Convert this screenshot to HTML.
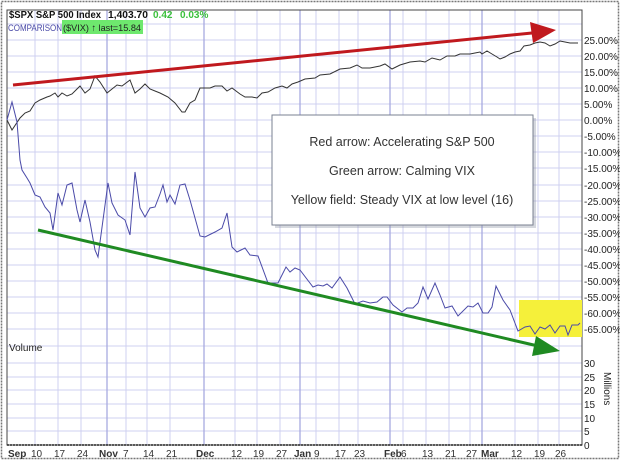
<!DOCTYPE html>
<html><head><meta charset="utf-8"><style>
body{margin:0;background:#fff;}
svg{display:block;font-family:"Liberation Sans",Arial,sans-serif;}
</style></head><body>
<svg width="620" height="460" viewBox="0 0 620 460" xmlns="http://www.w3.org/2000/svg">
<rect x="0" y="0" width="620" height="460" fill="#fff"/>
<rect x="1.5" y="1.5" width="617" height="457" fill="none" stroke="#777" stroke-width="1.5" stroke-dasharray="2,1"/>
<g stroke="#cfd0f0" stroke-width="1">
<line x1="7" y1="24" x2="582" y2="24"/><line x1="7" y1="40" x2="582" y2="40"/><line x1="7" y1="56" x2="582" y2="56"/><line x1="7" y1="72" x2="582" y2="72"/><line x1="7" y1="88" x2="582" y2="88"/><line x1="7" y1="104" x2="582" y2="104"/><line x1="7" y1="120" x2="582" y2="120"/><line x1="7" y1="136" x2="582" y2="136"/><line x1="7" y1="152" x2="582" y2="152"/><line x1="7" y1="168" x2="582" y2="168"/><line x1="7" y1="185" x2="582" y2="185"/><line x1="7" y1="201" x2="582" y2="201"/><line x1="7" y1="217" x2="582" y2="217"/><line x1="7" y1="233" x2="582" y2="233"/><line x1="7" y1="249" x2="582" y2="249"/><line x1="7" y1="265" x2="582" y2="265"/><line x1="7" y1="281" x2="582" y2="281"/><line x1="7" y1="297" x2="582" y2="297"/><line x1="7" y1="313" x2="582" y2="313"/><line x1="7" y1="329" x2="582" y2="329"/>
<line x1="7" y1="346" x2="582" y2="346"/><line x1="7" y1="363" x2="582" y2="363"/><line x1="7" y1="377" x2="582" y2="377"/><line x1="7" y1="390" x2="582" y2="390"/><line x1="7" y1="404" x2="582" y2="404"/><line x1="7" y1="418" x2="582" y2="418"/><line x1="7" y1="431" x2="582" y2="431"/>
<line x1="35" y1="10" x2="35" y2="445"/><line x1="58" y1="10" x2="58" y2="445"/><line x1="81" y1="10" x2="81" y2="445"/><line x1="126" y1="10" x2="126" y2="445"/><line x1="147" y1="10" x2="147" y2="445"/><line x1="170" y1="10" x2="170" y2="445"/><line x1="235" y1="10" x2="235" y2="445"/><line x1="257" y1="10" x2="257" y2="445"/><line x1="280" y1="10" x2="280" y2="445"/><line x1="316" y1="10" x2="316" y2="445"/><line x1="339" y1="10" x2="339" y2="445"/><line x1="358" y1="10" x2="358" y2="445"/><line x1="403" y1="10" x2="403" y2="445"/><line x1="426" y1="10" x2="426" y2="445"/><line x1="449" y1="10" x2="449" y2="445"/><line x1="470" y1="10" x2="470" y2="445"/><line x1="515" y1="10" x2="515" y2="445"/><line x1="538" y1="10" x2="538" y2="445"/><line x1="559" y1="10" x2="559" y2="445"/>
</g>
<g stroke="#a8aae0" stroke-width="1.3">
<line x1="107" y1="10" x2="107" y2="445"/><line x1="204" y1="10" x2="204" y2="445"/><line x1="300" y1="10" x2="300" y2="445"/><line x1="390" y1="10" x2="390" y2="445"/><line x1="482" y1="10" x2="482" y2="445"/>
</g>
<rect x="7" y="10" width="575" height="435" fill="none" stroke="#444" stroke-width="1"/>
<line x1="7" y1="445" x2="582" y2="445" stroke="#222" stroke-width="1.5" stroke-dasharray="2,1"/>
<rect x="519" y="300" width="63" height="37" fill="#f5f03a"/>
<polyline fill="none" stroke="#333" stroke-width="1" points="7,120 12,130 20,118 25,113 30,111 35,103 40,100 47,97 50,96 55,93 58,97 62,93 67,96 72,94 77,89 80,86 85,93 90,89 95,76 100,82 107,93 112,89 117,85 122,86 130,80 135,93 140,89 145,84 150,89 155,91 160,93 168,97 175,103 182,112 185,112 190,103 195,100 200,88 210,88 215,86 222,86 227,91 232,88 240,94 245,97 252,97 257,98 262,93 268,92 275,88 282,86 287,88 292,84 298,82 305,79 315,78 320,75 330,74 340,69 350,68 357,65 362,68 370,68 380,66 385,64 392,69 400,65 410,62 420,61 425,62 432,58 440,60 447,56 455,56 460,54 470,54 475,53 480,52 482,54 487,51 492,54 497,57 500,59 505,57 510,54 515,52 520,51 524,46 530,45 535,43 540,42 545,43 550,46 555,44 560,41 565,42 570,43 578,43"/>
<polyline fill="none" stroke="#4a4aa8" stroke-width="1" points="7,120 12,102 17,122 20,160 22,170 27,178 30,183 35,195 40,197 45,207 50,213 53,230 58,193 62,205 67,185 72,183 77,210 80,222 85,200 90,222 95,250 98,257 108,183 112,203 118,215 125,220 130,235 135,172 140,208 145,217 150,208 155,207 160,194 163,185 167,202 170,195 175,204 180,185 185,184 190,200 200,236 205,237 215,232 222,228 227,213 232,247 237,252 245,248 250,255 258,256 268,283 278,283 286,267 290,272 295,268 300,270 313,287 318,285 323,286 327,284 332,288 340,277 347,288 355,304 363,301 370,303 377,302 383,297 387,297 393,305 402,312 407,308 413,308 418,303 423,287 428,299 435,283 440,295 445,308 452,306 458,316 468,306 473,307 478,303 483,313 488,313 492,307 496,286 503,300 510,310 518,331 525,327 530,326 535,334 540,327 545,329 550,325 555,333 560,326 565,326 568,335 572,325 578,325 580,323"/>
<line x1="13" y1="85" x2="532" y2="33" stroke="#c0191e" stroke-width="3"/>
<polygon points="556,30 530,22 533,43" fill="#c0191e"/>
<line x1="38" y1="230" x2="538" y2="346" stroke="#1f8a22" stroke-width="3"/>
<polygon points="560,351 536,336 532,356" fill="#1f8a22"/>
<rect x="275" y="118" width="261" height="110" fill="#8890a0" opacity="0.35"/>
<rect x="272" y="115" width="261" height="110" fill="#fff" stroke="#7a8090" stroke-width="1"/>
<g font-size="12.5" fill="#333" text-anchor="middle">
<text x="402" y="146">Red arrow: Accelerating S&amp;P 500</text>
<text x="402" y="175">Green arrow: Calming VIX</text>
<text x="402" y="204">Yellow field: Steady VIX at low level (16)</text>
</g>
<text x="9" y="18" font-size="10" font-weight="bold" fill="#111" textLength="92" lengthAdjust="spacingAndGlyphs">$SPX S&amp;P 500 Index</text>
<text x="108" y="18" font-size="10" font-weight="bold" fill="#111" textLength="40" lengthAdjust="spacingAndGlyphs">1,403.70</text>
<text x="153" y="18" font-size="10" font-weight="bold" fill="#3cc03c">0.42</text>
<text x="180" y="18" font-size="10" font-weight="bold" fill="#3cc03c">0.03%</text>
<rect x="62" y="20" width="81" height="14" fill="#6ee86e"/>
<text x="8" y="31" font-size="9.5" fill="#4a4aa8" textLength="54" lengthAdjust="spacingAndGlyphs">COMPARISON</text>
<text x="63" y="31" font-size="9.5" fill="#222" textLength="78" lengthAdjust="spacingAndGlyphs">($VIX) ↑ last=15.84</text>
<g font-size="10" fill="#222">
<text x="584" y="44">25.00%</text><text x="584" y="60">20.00%</text><text x="584" y="76">15.00%</text><text x="584" y="92">10.00%</text><text x="584" y="108">5.00%</text><text x="584" y="124">0.00%</text><text x="584" y="140">-5.00%</text><text x="584" y="156">-10.00%</text><text x="584" y="172">-15.00%</text><text x="584" y="189">-20.00%</text><text x="584" y="205">-25.00%</text><text x="584" y="221">-30.00%</text><text x="584" y="237">-35.00%</text><text x="584" y="253">-40.00%</text><text x="584" y="269">-45.00%</text><text x="584" y="285">-50.00%</text><text x="584" y="301">-55.00%</text><text x="584" y="317">-60.00%</text><text x="584" y="333">-65.00%</text>
<text x="584" y="367">30</text><text x="584" y="381">25</text><text x="584" y="394">20</text><text x="584" y="408">15</text><text x="584" y="422">10</text><text x="584" y="435">5</text><text x="584" y="449">0</text>
<text x="9" y="351">Volume</text>
<text x="604" y="372" transform="rotate(90 604 372)">Millions</text>
</g>
<g font-size="10" fill="#333">
<text x="8" y="457" font-weight="bold">Sep</text><text x="31" y="457">10</text><text x="54" y="457">17</text><text x="77" y="457">24</text><text x="99" y="457" font-weight="bold">Nov</text><text x="123" y="457">7</text><text x="143" y="457">14</text><text x="166" y="457">21</text><text x="196" y="457" font-weight="bold">Dec</text><text x="231" y="457">12</text><text x="253" y="457">19</text><text x="276" y="457">27</text><text x="294" y="457" font-weight="bold">Jan</text><text x="314" y="457">9</text><text x="335" y="457">17</text><text x="354" y="457">23</text><text x="384" y="457" font-weight="bold">Feb</text><text x="401" y="457">6</text><text x="422" y="457">13</text><text x="445" y="457">21</text><text x="466" y="457">27</text><text x="481" y="457" font-weight="bold">Mar</text><text x="511" y="457">12</text><text x="534" y="457">19</text><text x="555" y="457">26</text>
</g>
</svg>
</body></html>
